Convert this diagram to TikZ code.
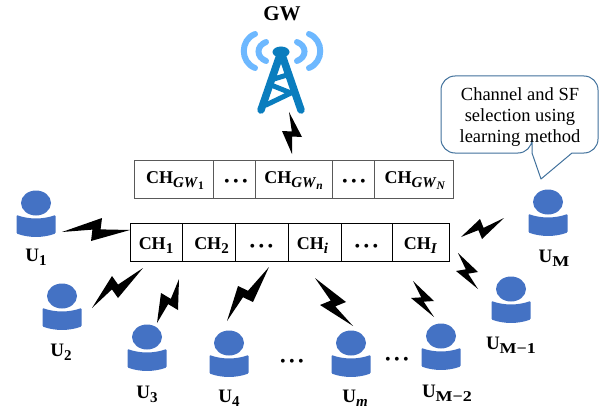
\documentclass[tikz,border=0pt]{standalone}
\usepackage{fontspec}
\setmainfont{Liberation Serif}
\usetikzlibrary{calc,shapes.geometric}
\definecolor{userblue}{HTML}{4472C4}
\definecolor{towerblue}{HTML}{0A7DBE}
\definecolor{waveblue}{HTML}{6DB8FF}
\definecolor{calloutline}{HTML}{41719C}
\newcommand\subs[1]{\lower4pt\hbox{\fontsize{15}{15}\selectfont\bfseries #1}}
\newcommand\subsub[1]{\lower2.5pt\hbox{\fontsize{11.5}{11.5}\selectfont\bfseries #1}}
\newcommand\chan[1]{\textbf{CH}\subs{#1}}
\newcommand\usr[1]{\textbf{U}\subs{#1}}
\newcommand\wide[1]{\scalebox{1.2}[1]{#1}}
\newcommand\threedots{\mbox{\fontsize{16}{16}\selectfont\textbullet\kern3.4pt\textbullet\kern3.4pt\textbullet}}
\newcommand\userfig[3]{%
  \node[userhead] (#1) at (#2,#3) {};
  \fill[userblue,shift={(#2,#3)},rounded corners=1pt] (-19.5,12) .. controls (-7,16.5) and (7,16.5) .. (19.5,12) -- (19.5,30.5) .. controls (7,35) and (-7,35) .. (-19.5,30.5) -- cycle;
}
\newcommand\bolt[4]{%
  \coordinate (bA) at (#1); \coordinate (bP) at (#2); \coordinate (bQ) at (#3); \coordinate (bB) at (#4);
  \fill[black] (bA) -- (bP) -- ($(bP)!.5!(bQ)+.06*(bB)-.06*(bA)$) -- (bB) -- (bQ) -- ($(bP)!.5!(bQ)-.06*(bB)+.06*(bA)$) -- cycle;
}
\tikzset{
  cellbox/.style={draw=#1,line width=1pt,minimum height=38,inner sep=0pt,font=\fontsize{18}{18}\selectfont},
  cellbox/.default=black,
  toplabel/.style={cellbox=black!65,text height=15.3pt,text depth=6.7pt},
  topdots/.style={cellbox=black!65,text height=18pt,text depth=4pt},
  lowlabel/.style={cellbox,text height=18.3pt,text depth=3.7pt},
  lowdots/.style={cellbox,text height=20pt,text depth=2pt},
  userhead/.style={ellipse,fill=userblue,minimum width=30,minimum height=25,inner sep=0pt},
  ulabel/.style={inner sep=0pt,anchor=base,font=\fontsize{19}{19}\selectfont},
  dotsnode/.style={inner sep=0pt},
  wave/.style={waveblue,line width=6pt,line cap=round},
  leg/.style={towerblue,line width=7.5pt,line cap=round,line join=round},
  strut/.style={towerblue,line width=5pt,line cap=round,line join=round}
}
\begin{document}
\begin{tikzpicture}[x=1pt,y=-1pt]
\useasboundingbox (0,0) rectangle (607,409);
% gateway
\node[inner sep=0pt,font=\fontsize{21}{21}\selectfont\bfseries] (gw) at (282,14) {GW};
\draw[wave] (266,42) .. controls (256,46) and (256,57) .. (266,61);
\draw[wave] (255,34) .. controls (240,40) and (240,62) .. (255,68);
\draw[wave] (297,42) .. controls (307,46) and (307,57) .. (297,61);
\draw[wave] (309,34) .. controls (324,40) and (324,62) .. (309,68);
\draw[leg] (280,55) -- (261,110);
\draw[leg] (282,55) -- (301,110);
\fill[towerblue] (281,52) ellipse (8.5 and 5.5);
\draw[strut] (274,79) -- (287,75);
\draw[strut] (271,85) -- (291,93) -- (266,105);
\bolt{289,112}{302,137}{282,131}{292,154}
% gateway channels
\node[toplabel,minimum width=79] (g1) at (173.5,179) {\kern3pt\chan{\textit{GW}\subsub{1}}};
\node[topdots,minimum width=42] (g2) at (234,179) {\kern4pt\threedots};
\node[toplabel,minimum width=77] (g3) at (293.5,179) {\chan{\textit{GW}\subsub{\textit{n}}}};
\node[topdots,minimum width=42] (g4) at (353,179) {\kern2pt\threedots};
\node[toplabel,minimum width=79] (g5) at (413.5,179) {\kern3pt\chan{\textit{GW}\subsub{\textit{N}}}};
% user channels
\node[lowlabel,minimum width=52] (c1) at (156,242) {\chan{1}};
\node[lowlabel,minimum width=53] (c2) at (208.5,242) {\kern6pt\chan{2}};
\node[lowdots,minimum width=53] (c3) at (261.5,242) {\threedots};
\node[lowlabel,minimum width=53] (c4) at (314.5,242) {\chan{\textit{i}}\kern4pt};
\node[lowdots,minimum width=51] (c5) at (366.5,242) {\threedots};
\node[lowlabel,minimum width=57] (c6) at (420.5,242) {\chan{\textit{I}}};
% users
\userfig{u1}{36}{203}
\userfig{u2}{62}{296}
\userfig{u3}{147}{337}
\userfig{u4}{229}{343}
\userfig{um}{351}{343}
\userfig{um2}{441}{336}
\userfig{um1}{511}{289}
\userfig{uM}{548}{202}
\node[ulabel] (l1) at (36,261) {\usr{1}};
\node[ulabel] (l2) at (61,356) {\usr{2}};
\node[ulabel] (l3) at (147,398) {\usr{3}};
\node[ulabel] (l4) at (229,402.5) {\usr{4}};
\node[ulabel] (l5) at (355,402.5) {\usr{\textit{m}}};
\node[ulabel] (l6) at (447,397) {\usr{\wide{M−2}}};
\node[ulabel] (l7) at (511,349) {\usr{\wide{M−1}}};
\node[ulabel] (l8) at (554,262) {\usr{\wide{M}}};
\node[dotsnode] (d1) at (292,363) {\threedots};
\node[dotsnode] (d2) at (397,361) {\threedots};
% bolts
\bolt{62,232}{102,218}{91,241}{130,230}
\bolt{92,308}{112,276}{118,298}{143,268}
\bolt{157,323}{161,293}{178,310}{179,279}
\bolt{227,321}{238,286}{253,302}{269,267}
\bolt{315,278}{346,302}{320,305}{353,326}
\bolt{413,281}{434,301}{411,298}{434,317}
\bolt{458,253}{478,272}{456,271}{478,289}
\bolt{461,237}{480,219}{482,239}{504,218}
% callout
\draw[calloutline,line width=1pt,fill=white,line join=round]
  (532,153) -- (541,179) -- (572,153) [rounded corners=14] -- (598,153) -- (598,76) -- (441,76) -- (441,153) -- (532,153) [sharp corners] -- cycle;
\node[inner sep=0pt,align=center,font=\fontsize{18.5}{21}\selectfont] (note) at (520,117.5) {Channel and SF\\selection using\\learning method};
\end{tikzpicture}
\end{document}
